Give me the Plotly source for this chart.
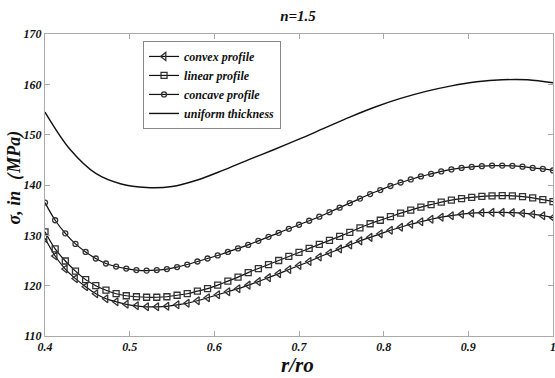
import plotly.graph_objects as go

x_pts = [round(0.4 + 0.012 * i, 3) for i in range(51)]

convex = [129.4, 125.9, 123.3, 121.4, 119.8, 118.4, 117.4, 116.8, 116.3, 116.0,
          115.8, 115.8, 115.9, 116.2, 116.5, 117.0, 117.6, 118.2, 118.8, 119.4,
          120.1, 120.8, 121.6, 122.4, 123.2, 124.0, 124.8, 125.7, 126.5, 127.3,
          128.1, 128.9, 129.6, 130.3, 131.0, 131.6, 132.2, 132.7, 133.2, 133.6,
          133.9, 134.2, 134.4, 134.5, 134.55, 134.55, 134.5, 134.4, 134.2, 133.9,
          133.5]

linear = [130.7, 127.3, 124.9, 122.9, 121.2, 120.0, 119.1, 118.4, 118.0, 117.8,
          117.7, 117.7, 117.8, 118.1, 118.4, 118.9, 119.4, 120.1, 120.9, 121.7,
          122.6, 123.4, 124.2, 125.0, 125.8, 126.6, 127.4, 128.2, 129.0, 129.8,
          130.6, 131.5, 132.3, 133.0, 133.7, 134.4, 135.0, 135.6, 136.1, 136.6,
          137.0, 137.3, 137.55, 137.75, 137.85, 137.9, 137.85, 137.7, 137.45, 137.1,
          136.7]

concave = [136.5, 133.0, 130.4, 128.3, 126.7, 125.4, 124.4, 123.8, 123.4, 123.1,
           123.0, 123.1, 123.3, 123.7, 124.2, 124.8, 125.4, 126.0, 126.7, 127.4,
           128.1, 128.9, 129.7, 130.5, 131.3, 132.1, 132.9, 133.7, 134.6, 135.5,
           136.4, 137.3, 138.2, 139.0, 139.8, 140.5, 141.1, 141.7, 142.2, 142.7,
           143.1, 143.4, 143.6, 143.75, 143.85, 143.85, 143.8, 143.65, 143.4, 143.2,
           142.9]

x_uniform = [0.40, 0.43, 0.46, 0.49, 0.52, 0.55, 0.58, 0.61, 0.64, 0.67, 0.70,
             0.73, 0.76, 0.79, 0.82, 0.85, 0.88, 0.91, 0.94, 0.97, 1.00]
uniform = [154.5, 147.0, 142.3, 140.2, 139.5, 139.7, 141.0, 142.9, 145.0, 147.0, 149.1,
           151.3, 153.5, 155.5, 157.2, 158.6, 159.7, 160.5, 160.9, 160.9, 160.3]

x_ticks = [0.4, 0.5, 0.6, 0.7, 0.8, 0.9, 1.0]
x_tick_labels = ["0.4", "0.5", "0.6", "0.7", "0.8", "0.9", "1"]
y_ticks = [110, 120, 130, 140, 150, 160, 170]

SERIF = "Liberation Serif"
bi = dict(family=SERIF, weight="bold", style="italic", color="#111")

fig = go.Figure()
fig.add_trace(go.Scatter(x=x_pts, y=convex, name="convex profile", mode="lines+markers",
                         line=dict(color="#111", width=1.2, shape="spline"),
                         marker=dict(symbol="triangle-left-open", size=7, color="#333",
                                     line=dict(width=1.3))))
fig.add_trace(go.Scatter(x=x_pts, y=linear, name="linear profile", mode="lines+markers",
                         line=dict(color="#111", width=1.2, shape="spline"),
                         marker=dict(symbol="square-open", size=6, color="#333",
                                     line=dict(width=1.3))))
fig.add_trace(go.Scatter(x=x_pts, y=concave, name="concave profile", mode="lines+markers",
                         line=dict(color="#111", width=1.2, shape="spline"),
                         marker=dict(symbol="circle-open", size=5, color="#333",
                                     line=dict(width=1.3))))
fig.add_trace(go.Scatter(x=x_uniform, y=uniform, name="uniform thickness", mode="lines",
                         line=dict(color="#111", width=1.4, shape="spline")))

fig.update_layout(
    width=555, height=378,
    margin=dict(l=45, r=2, t=34, b=42, autoexpand=False),
    paper_bgcolor="white", plot_bgcolor="white",
    showlegend=True,
    title=dict(text="n=1.5", x=0.537, xanchor="center", y=0.958, yanchor="middle",
               font=dict(size=15, **bi)),
    legend=dict(x=0.193, y=0.977, xanchor="left", yanchor="top",
                bgcolor="white", bordercolor="#888", borderwidth=1,
                font=dict(size=12, **bi), tracegroupgap=0, itemwidth=30,
                traceorder="normal"),
    xaxis=dict(range=[0.4, 1.0], tickvals=x_ticks, ticktext=x_tick_labels,
               automargin=False, ticklabeloverflow="allow",
               showgrid=False, zeroline=False, showline=True, linecolor="#aaa",
               linewidth=1, mirror="ticks", ticks="inside", ticklen=5, tickcolor="#aaa",
               tickfont=dict(size=12, **bi)),
    yaxis=dict(range=[110, 170], tickvals=y_ticks, automargin=False,
               ticklabeloverflow="allow",
               showgrid=False, zeroline=False, showline=True, linecolor="#aaa",
               linewidth=1, mirror="ticks", ticks="inside", ticklen=5, tickcolor="#aaa",
               tickfont=dict(size=12, **bi)),
    annotations=[
        dict(text="r/ro", xref="paper", yref="paper", x=0.498, y=-0.096,
             xanchor="center", yanchor="middle", showarrow=False,
             font=dict(size=21, **bi)),
        dict(text="σ, in（MPa)", xref="paper", yref="paper", x=-0.061, y=0.525,
             xanchor="center", yanchor="middle", showarrow=False, textangle=-90,
             font=dict(size=18, **bi)),
    ],
)

fig.write_html("out.html", config={"displayModeBar": False},
               post_script="document.body.style.margin='0';")
